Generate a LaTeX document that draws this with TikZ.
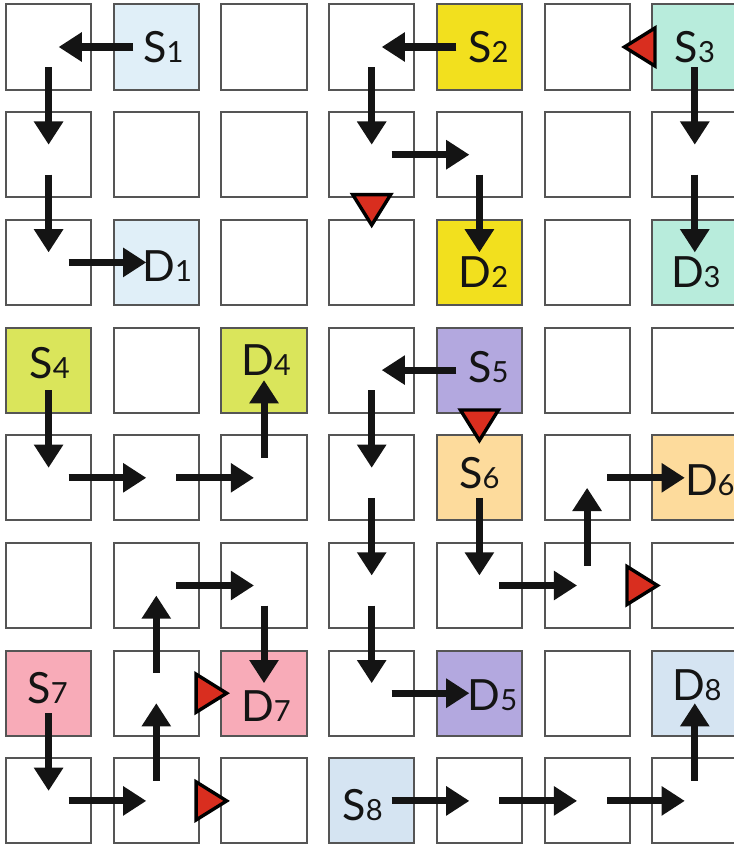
\documentclass[tikz,border=0pt]{standalone}
\usepackage{fontspec}
\setmainfont{Lato}
\usepackage{xcolor}
\usepackage{tikz}
\usetikzlibrary{arrows.meta,calc}

\definecolor{cellgray}{HTML}{555555}
\definecolor{inkblack}{HTML}{141414}
\definecolor{stopred}{HTML}{D92E1F}
\definecolor{pairA}{HTML}{E0EFF8}
\definecolor{pairB}{HTML}{F2E01E}
\definecolor{pairC}{HTML}{B8ECDC}
\definecolor{pairD}{HTML}{DAE55B}
\definecolor{pairE}{HTML}{B3A8DF}
\definecolor{pairF}{HTML}{FDDB9C}
\definecolor{pairG}{HTML}{F8ABB8}
\definecolor{pairH}{HTML}{D5E4F2}

\newcommand{\subnum}[1]{{\fontsize{20.7}{22}\selectfont #1}}

\begin{document}
\begin{tikzpicture}[x=0.025cm, y=-0.025cm,
  cell/.style={draw=cellgray, fill=white, line width=0.05cm, minimum size=2.125cm, inner sep=0pt},
  tag/.style={inner sep=0pt, text=inkblack, font=\fontsize{30.6}{32}\selectfont},
  flow/.style={-{Triangle[length=0.58cm,width=0.7cm]}, draw=inkblack, line width=0.175cm, shorten <=0.5cm, shorten >=0.25cm},
  blocked/.pic={\draw[fill=stopred, line width=0.085cm] (-14,-19) -- (16.5,0) -- (-14,19) -- cycle;}]
  \useasboundingbox (0,0) rectangle (733,848);
  % row 0
  \node[cell] (c00) at (48.6,47) {};
  \node[cell, fill=pairA] (c01) at (156.3,47) {};
  \node[cell] (c02) at (264.0,47) {};
  \node[cell] (c03) at (371.7,47) {};
  \node[cell, fill=pairB] (c04) at (479.4,47) {};
  \node[cell] (c05) at (587.1,47) {};
  \node[cell, fill=pairC] (c06) at (694.8,47) {};
  % row 1
  \node[cell] (c10) at (48.6,154.7) {};
  \node[cell] (c11) at (156.3,154.7) {};
  \node[cell] (c12) at (264.0,154.7) {};
  \node[cell] (c13) at (371.7,154.7) {};
  \node[cell] (c14) at (479.4,154.7) {};
  \node[cell] (c15) at (587.1,154.7) {};
  \node[cell] (c16) at (694.8,154.7) {};
  % row 2
  \node[cell] (c20) at (48.6,262.4) {};
  \node[cell, fill=pairA] (c21) at (156.3,262.4) {};
  \node[cell] (c22) at (264.0,262.4) {};
  \node[cell] (c23) at (371.7,262.4) {};
  \node[cell, fill=pairB] (c24) at (479.4,262.4) {};
  \node[cell] (c25) at (587.1,262.4) {};
  \node[cell, fill=pairC] (c26) at (694.8,262.4) {};
  % row 3
  \node[cell, fill=pairD] (c30) at (48.6,370.1) {};
  \node[cell] (c31) at (156.3,370.1) {};
  \node[cell, fill=pairD] (c32) at (264.0,370.1) {};
  \node[cell] (c33) at (371.7,370.1) {};
  \node[cell, fill=pairE] (c34) at (479.4,370.1) {};
  \node[cell] (c35) at (587.1,370.1) {};
  \node[cell] (c36) at (694.8,370.1) {};
  % row 4
  \node[cell] (c40) at (48.6,477.8) {};
  \node[cell] (c41) at (156.3,477.8) {};
  \node[cell] (c42) at (264.0,477.8) {};
  \node[cell] (c43) at (371.7,477.8) {};
  \node[cell, fill=pairF] (c44) at (479.4,477.8) {};
  \node[cell] (c45) at (587.1,477.8) {};
  \node[cell, fill=pairF] (c46) at (694.8,477.8) {};
  % row 5
  \node[cell] (c50) at (48.6,585.5) {};
  \node[cell] (c51) at (156.3,585.5) {};
  \node[cell] (c52) at (264.0,585.5) {};
  \node[cell] (c53) at (371.7,585.5) {};
  \node[cell] (c54) at (479.4,585.5) {};
  \node[cell] (c55) at (587.1,585.5) {};
  \node[cell] (c56) at (694.8,585.5) {};
  % row 6
  \node[cell, fill=pairG] (c60) at (48.6,693.2) {};
  \node[cell] (c61) at (156.3,693.2) {};
  \node[cell, fill=pairG] (c62) at (264.0,693.2) {};
  \node[cell] (c63) at (371.7,693.2) {};
  \node[cell, fill=pairE] (c64) at (479.4,693.2) {};
  \node[cell] (c65) at (587.1,693.2) {};
  \node[cell, fill=pairH] (c66) at (694.8,693.2) {};
  % row 7
  \node[cell] (c70) at (48.6,800.9) {};
  \node[cell] (c71) at (156.3,800.9) {};
  \node[cell] (c72) at (264.0,800.9) {};
  \node[cell, fill=pairH] (c73) at (371.7,800.9) {};
  \node[cell] (c74) at (479.4,800.9) {};
  \node[cell] (c75) at (587.1,800.9) {};
  \node[cell] (c76) at (694.8,800.9) {};
  % sources and destinations
  \node[tag] (s1) at (163.3,47) {S\subnum{1}};
  \node[tag] (s2) at (488.4,47) {S\subnum{2}};
  \node[tag] (s3) at (694.8,47) {S\subnum{3}};
  \node[tag] (d1) at (167.3,266.4) {D\subnum{1}};
  \node[tag] (d2) at (483.4,272.4) {D\subnum{2}};
  \node[tag] (d3) at (695.8,272.4) {D\subnum{3}};
  \node[tag] (s4) at (49.6,363.1) {S\subnum{4}};
  \node[tag] (d4) at (266,360.1) {D\subnum{4}};
  \node[tag] (s5) at (488.4,367.1) {S\subnum{5}};
  \node[tag] (s6) at (479.4,472.8) {S\subnum{6}};
  \node[tag] (d6) at (709.8,479.8) {D\subnum{6}};
  \node[tag] (s7) at (47.6,688.2) {S\subnum{7}};
  \node[tag] (d7) at (266,706.2) {D\subnum{7}};
  \node[tag] (d5) at (492.4,695.2) {D\subnum{5}};
  \node[tag] (d8) at (696.8,685.2) {D\subnum{8}};
  \node[tag] (s8) at (362.7,804.9) {S\subnum{8}};
  % routes
  \draw[flow, shorten <=0.575cm] (c01.center) -- (c00.center);
  \draw[flow] (c00.center) -- (c10.center);
  \draw[flow] (c10.center) -- (c20.center);
  \draw[flow] (c20.center) -- (c21.center);
  \draw[flow, shorten <=0.575cm] (c04.center) -- (c03.center);
  \draw[flow] (c03.center) -- (c13.center);
  \draw[flow] (c13.center) -- (c14.center);
  \draw[flow] (c14.center) -- (c24.center);
  \draw[flow] (c06.center) -- (c16.center);
  \draw[flow] (c16.center) -- (c26.center);
  \draw[flow] (c30.center) -- (c40.center);
  \draw[flow] (c40.center) -- (c41.center);
  \draw[flow] (c41.center) -- (c42.center);
  \draw[flow] (c42.center) -- (c32.center);
  \draw[flow, shorten <=0.575cm] (c34.center) -- (c33.center);
  \draw[flow] (c33.center) -- (c43.center);
  \draw[flow] (c43.center) -- (c53.center);
  \draw[flow] (c53.center) -- (c63.center);
  \draw[flow] (c63.center) -- (c64.center);
  \draw[flow] (c44.center) -- (c54.center);
  \draw[flow] (c54.center) -- (c55.center);
  \draw[flow] (c55.center) -- (c45.center);
  \draw[flow] (c45.center) -- (c46.center);
  \draw[flow] (c60.center) -- (c70.center);
  \draw[flow] (c70.center) -- (c71.center);
  \draw[flow] (c71.center) -- (c61.center);
  \draw[flow] (c61.center) -- (c51.center);
  \draw[flow] (c51.center) -- (c52.center);
  \draw[flow] (c52.center) -- (c62.center);
  \draw[flow] (c73.center) -- (c74.center);
  \draw[flow] (c74.center) -- (c75.center);
  \draw[flow] (c75.center) -- (c76.center);
  \draw[flow] (c76.center) -- (c66.center);
  % blocked links
  \pic[rotate=180] at ($(c06)!0.5!(c05)$) {blocked};
  \pic[rotate=-90] at ($(c13)!0.5!(c23)$) {blocked};
  \pic[rotate=-90] at ($(c34)!0.5!(c44)$) {blocked};
  \pic at ($(c55)!0.5!(c56)$) {blocked};
  \pic at ($(c61)!0.5!(c62)$) {blocked};
  \pic at ($(c71)!0.5!(c72)$) {blocked};
\end{tikzpicture}
\end{document}
